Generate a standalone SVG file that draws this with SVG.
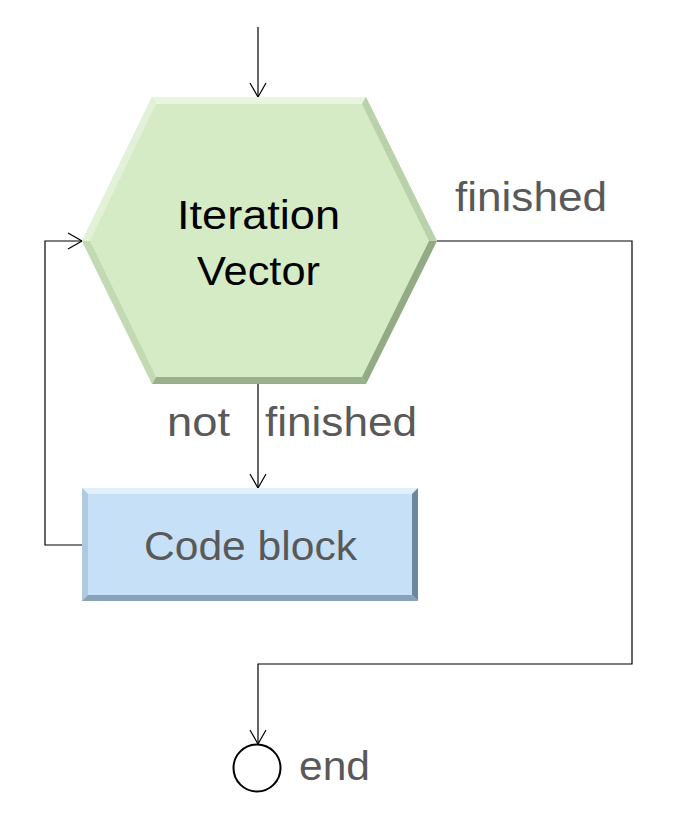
<svg xmlns="http://www.w3.org/2000/svg" width="674" height="840" viewBox="0 0 674 840">
<style>
.ln{fill:none;stroke:#000;stroke-width:1.2}
.lbl{font-family:"Liberation Sans",Arial,sans-serif;fill:#595959;font-size:40px}
.main{font-family:"Liberation Sans",Arial,sans-serif;fill:#000;font-size:40px}
</style>
<defs>
<marker id="arr" markerWidth="20" markerHeight="20" refX="16" refY="10" orient="auto" markerUnits="userSpaceOnUse">
<path d="M2,2 L16,10 L2,18" fill="none" stroke="#000" stroke-width="1.2"/>
</marker>
</defs>
<rect width="674" height="840" fill="#fff"/>
<g id="connectors">
<path class="ln" d="M258,27 V97" marker-end="url(#arr)"/>
<path class="ln" d="M258,384 V488" marker-end="url(#arr)"/>
<path class="ln" d="M82,545 H45 V241 H82" marker-end="url(#arr)"/>
<path class="ln" d="M437,241 H632 V664 H258 V744" marker-end="url(#arr)"/>
</g>
<g id="iteration-vector">
<polygon points="152,97 366,97 437,241 366,384 152,384 82,241" fill="#d4ebc5"/>
<polygon points="152,97 366,97 362,104 156,104" fill="#e8f5df"/>
<polygon points="152,97 156,104 90,241 82,241" fill="#e2f1d7"/>
<polygon points="366,97 437,241 429,241 362,104" fill="#b9d2ab"/>
<polygon points="437,241 366,384 362,377 429,241" fill="#92ab86"/>
<polygon points="366,384 152,384 156,377 362,377" fill="#98b18b"/>
<polygon points="152,384 82,241 90,241 156,377" fill="#c2dab4"/>
<text class="main" x="177" y="229" textLength="163" lengthAdjust="spacingAndGlyphs">Iteration</text>
<text class="main" x="197" y="285" textLength="123" lengthAdjust="spacingAndGlyphs">Vector</text>
</g>
<g id="code-block">
<rect x="82" y="488" width="336" height="113" fill="#c6e0f7"/>
<polygon points="82,488 418,488 412,494 88,494" fill="#e2f0fc"/>
<polygon points="82,488 88,494 88,595 82,601" fill="#b0c9e0"/>
<polygon points="418,488 418,601 412,595 412,494" fill="#6f879c"/>
<polygon points="82,601 418,601 412,595 88,595" fill="#8aa2b8"/>
<text class="lbl" x="144" y="560" textLength="213" lengthAdjust="spacingAndGlyphs">Code block</text>
</g>
<g id="end">
<circle cx="257" cy="768" r="23.5" fill="#fff" stroke="#000" stroke-width="2"/>
<text class="lbl" x="299" y="780" textLength="71" lengthAdjust="spacingAndGlyphs">end</text>
</g>
<g id="labels">
<text class="lbl" x="455" y="211" textLength="152" lengthAdjust="spacingAndGlyphs">finished</text>
<text class="lbl" x="167" y="436" textLength="63" lengthAdjust="spacingAndGlyphs">not</text>
<text class="lbl" x="265" y="436" textLength="152" lengthAdjust="spacingAndGlyphs">finished</text>
</g>
</svg>
